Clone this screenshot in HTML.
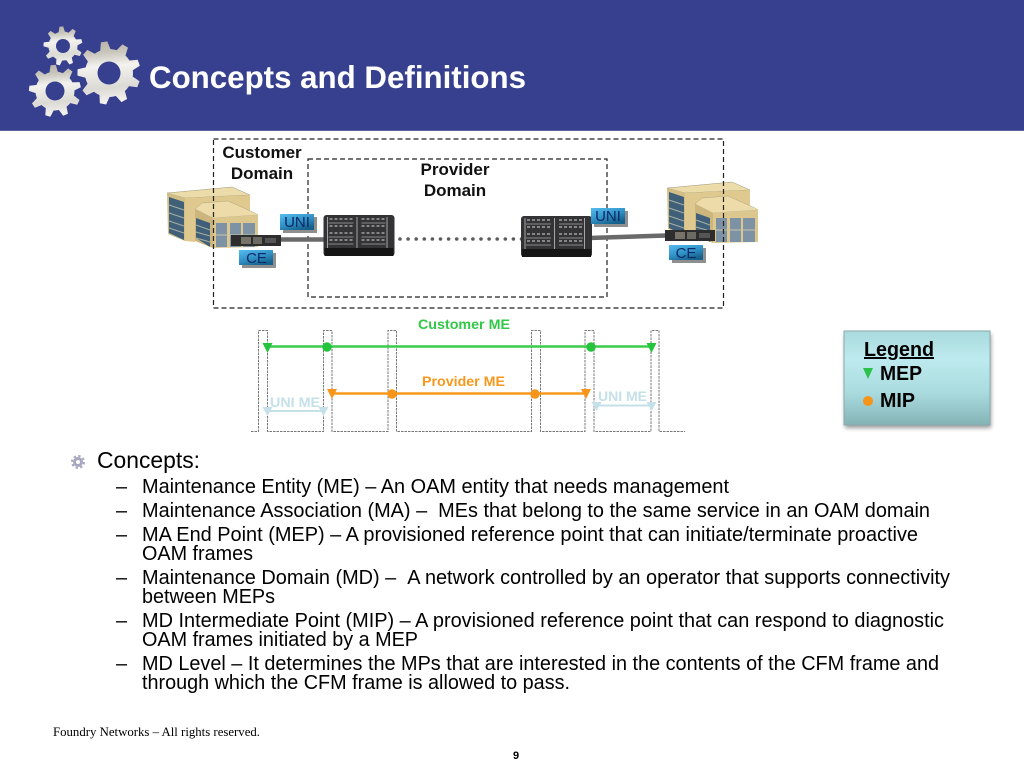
<!DOCTYPE html>
<html>
<head>
<meta charset="utf-8">
<title>Concepts and Definitions</title>
<style>
html,body{margin:0;padding:0;background:#fff;width:1024px;height:768px;overflow:hidden}
svg{display:block}
text{font-family:"Liberation Sans",sans-serif}
.b{font-size:19.900px;fill:#000}
.d{font-weight:bold;font-size:17px;fill:#111;text-anchor:middle}
.tag{font-size:15px;fill:#0c2a66;text-anchor:middle}
</style>
</head>
<body>
<svg width="1024" height="768" viewBox="0 0 1024 768" xmlns="http://www.w3.org/2000/svg">
<defs>
<linearGradient id="g" x1="0" y1="0" x2="0.1" y2="1"><stop offset="0" stop-color="#b2aea2"/><stop offset="0.22" stop-color="#c9c6bd"/><stop offset="0.42" stop-color="#f3f2ee"/><stop offset="0.75" stop-color="#dcdad4"/><stop offset="1" stop-color="#f6f5f2"/></linearGradient>
<linearGradient id="tagg" x1="0" y1="0" x2="0.6" y2="1"><stop offset="0" stop-color="#55bdf0"/><stop offset="0.6" stop-color="#2f8fc4"/><stop offset="1" stop-color="#16618c"/></linearGradient>
<linearGradient id="leg" x1="0" y1="0" x2="0" y2="1"><stop offset="0" stop-color="#a9dadd"/><stop offset="0.3" stop-color="#bdeaee"/><stop offset="0.65" stop-color="#aadcdf"/><stop offset="1" stop-color="#84b3b6"/></linearGradient>
<filter id="sh" x="-10%" y="-10%" width="120%" height="125%"><feGaussianBlur stdDeviation="2.2"/></filter>

<polygon id="tL" points="-5.500,-22 -3.200,-31.500 3.200,-31.500 5.500,-22" fill="#fff"/>
<polygon id="tM" points="-4.500,-17.500 -2.600,-26 2.600,-26 4.500,-17.500" fill="#fff"/>
<polygon id="tS" points="-3.300,-13 -1.900,-19.500 1.900,-19.500 3.300,-13" fill="#fff"/>

<mask id="mL" maskUnits="userSpaceOnUse" x="70" y="35" width="80" height="80">
<g transform="translate(109,73)">
<circle r="24" fill="#fff"/>
<use href="#tL" transform="rotate(-9)"/><use href="#tL" transform="rotate(31)"/><use href="#tL" transform="rotate(71)"/><use href="#tL" transform="rotate(111)"/><use href="#tL" transform="rotate(151)"/><use href="#tL" transform="rotate(191)"/><use href="#tL" transform="rotate(231)"/><use href="#tL" transform="rotate(271)"/><use href="#tL" transform="rotate(311)"/>
<circle r="11.500" fill="#000"/>
</g>
</mask>
<mask id="mM" maskUnits="userSpaceOnUse" x="20" y="55" width="70" height="70">
<g transform="translate(55,91)">
<circle r="19.500" fill="#fff"/>
<use href="#tM" transform="rotate(-4)"/><use href="#tM" transform="rotate(36)"/><use href="#tM" transform="rotate(76)"/><use href="#tM" transform="rotate(116)"/><use href="#tM" transform="rotate(156)"/><use href="#tM" transform="rotate(196)"/><use href="#tM" transform="rotate(236)"/><use href="#tM" transform="rotate(276)"/><use href="#tM" transform="rotate(316)"/>
<circle r="9.500" fill="#000"/>
</g>
</mask>
<mask id="mS" maskUnits="userSpaceOnUse" x="38" y="22" width="50" height="50">
<g transform="translate(63,46)">
<circle r="14.500" fill="#fff"/>
<use href="#tS" transform="rotate(-5)"/><use href="#tS" transform="rotate(35)"/><use href="#tS" transform="rotate(75)"/><use href="#tS" transform="rotate(115)"/><use href="#tS" transform="rotate(155)"/><use href="#tS" transform="rotate(195)"/><use href="#tS" transform="rotate(235)"/><use href="#tS" transform="rotate(275)"/><use href="#tS" transform="rotate(315)"/>
<circle r="7" fill="#000"/>
</g>
</mask>

<g id="bld">
<polygon points="167,193 232,187 250,195 185,198" fill="#ecdcaa" stroke="#9a9678" stroke-width="0.5"/>
<polygon points="167,193 185,198 185,241 168,234" fill="#d2be86"/>
<polygon points="169,197 184,202 184,240 169,233" fill="#40607a"/>
<path d="M169 205 L184 210 M169 213 L184 218 M169 221 L184 226 M169 228 L184 233" stroke="#a6aea0" stroke-width="1.100" fill="none"/>
<polygon points="185,198 250,195 250,216 195,212 195,242 185,241" fill="#dfc98e"/>
<polygon points="202,203 228,201 255,213 258,215 213,218 195,209" fill="#eddcaa" stroke="#a09a78" stroke-width="0.400"/>
<polygon points="195,209 213,218 213,248 195,241" fill="#cdb67e"/>
<polygon points="196,218 210,223 210,247 196,238" fill="#40607a"/>
<path d="M196 225 L210 230 M196 232 L210 236 M196 238 L210 242" stroke="#a6aea0" stroke-width="1.100" fill="none"/>
<polygon points="213,218 258,215 258,247 213,248" fill="#dcc88f"/>
<rect x="216" y="223" width="11" height="24" fill="#7d93a5"/>
<rect x="230" y="223" width="11" height="24" fill="#7d93a5"/>
<rect x="243" y="223" width="12" height="24" fill="#7d93a5"/>
<path d="M216 235 H255" stroke="#c9c6a6" stroke-width="1"/>
</g>

<g id="rtr">
<rect x="0" y="0" width="71" height="41" rx="3" fill="#333335"/>
<path d="M6 4 H30 M38 4 H62 M6 11 H30 M38 11 H62 M6 18 H30 M38 18 H62 M6 25 H30 M38 25 H62" stroke="#b8b8b8" stroke-width="1.200" stroke-dasharray="3 2" fill="none"/>
<path d="M5 8 H30 M38 8 H62 M5 22 H30 M38 22 H62 M38 29 H62 M5 29 H30" stroke="#6c6c6e" stroke-width="1.500" fill="none"/>
<path d="M33.500 2 V33 M63.500 2 V33 M4 2 V33" stroke="#a5a5a5" stroke-width="1" fill="none"/>
<rect x="1" y="33" width="69" height="8" fill="#151515"/>
</g>
<g id="ced">
<rect x="0" y="0" width="50" height="11" fill="#2d2d2e"/>
<rect x="10" y="2" width="10" height="7" fill="#77726a"/>
<rect x="22" y="2" width="9" height="7" fill="#6d6a64"/>
<rect x="34" y="3" width="11" height="5" fill="#555"/>
</g>
</defs>

<rect x="0" y="0" width="1024" height="131" fill="#37408f"/>
<rect x="0" y="130" width="1024" height="1" fill="#5b63a3"/>

<!-- gears -->
<rect x="70" y="41" width="78" height="66" fill="url(#g)" mask="url(#mL)"/>
<rect x="25" y="64" width="62" height="54" fill="url(#g)" mask="url(#mM)"/>
<rect x="40" y="26" width="46" height="40" fill="url(#g)" mask="url(#mS)"/>

<text x="149" y="88" font-weight="bold" font-size="31.300px" fill="#fff" textLength="377" lengthAdjust="spacingAndGlyphs">Concepts and Definitions</text>

<!-- domains -->
<use href="#bld"/>
<use href="#bld" transform="translate(500,-5)"/>
<rect x="213.500" y="139" width="510" height="169" fill="none" stroke="#222" stroke-width="1.200" stroke-dasharray="5 3"/>
<rect x="308" y="159" width="299" height="138" fill="none" stroke="#222" stroke-width="1.200" stroke-dasharray="5 3"/>

<text class="d" x="262" y="158">Customer</text>
<text class="d" x="262" y="179">Domain</text>
<text class="d" x="455" y="175">Provider</text>
<text class="d" x="455" y="196">Domain</text>

<path d="M280 239.500 H324" stroke="#6a6a6a" stroke-width="4.500"/>
<path d="M589 238 L666 235.500" stroke="#6a6a6a" stroke-width="4.500"/>
<path d="M400 239 H522" stroke="#5c5c5c" stroke-width="3.600" stroke-linecap="round" stroke-dasharray="0 8.100" fill="none"/>
<use href="#rtr" x="323.500" y="215"/>
<use href="#rtr" x="521" y="216"/>
<use href="#ced" x="231" y="235"/>
<use href="#ced" x="665" y="230"/>

<rect x="283" y="217" width="34" height="16" fill="#8f8f8f"/>
<rect x="280" y="214" width="34" height="16" fill="url(#tagg)"/>
<text class="tag" x="297" y="227">UNI</text>
<rect x="594" y="211" width="34" height="16" fill="#8f8f8f"/>
<rect x="591" y="208" width="34" height="16" fill="url(#tagg)"/>
<text class="tag" x="608" y="221">UNI</text>
<rect x="242" y="253" width="34" height="15" fill="#8f8f8f"/>
<rect x="239" y="250" width="34" height="15" fill="url(#tagg)"/>
<text class="tag" x="256.500" y="263">CE</text>
<rect x="672" y="248" width="34" height="15" fill="#8f8f8f"/>
<rect x="669" y="245" width="34" height="15" fill="url(#tagg)"/>
<text class="tag" x="686" y="258">CE</text>

<!-- ME pulses -->
<path d="M251 431.500 H258.500 V330.500 H267.500 V431.500 H323.500 V330.500 H332 V431.500 H388 V330.500 H396.500 V431.500 H531.500 V330.500 H540.500 V431.500 H585 V330.500 H594 V431.500 H651 V330.500 H659 V431.500 H685" fill="none" stroke="#777" stroke-width="1" stroke-dasharray="2.500 1"/>

<text x="418" y="329" font-weight="bold" font-size="14.200px" fill="#33c748" textLength="92" lengthAdjust="spacingAndGlyphs">Customer ME</text>
<path d="M267 346.500 H651" stroke="#3ccb4a" stroke-width="2.500"/>
<polygon points="262.500,343 272.500,343 267.500,353" fill="#25c43c"/>
<polygon points="646.500,343 656.500,343 651.500,353" fill="#25c43c"/>
<circle cx="327" cy="347" r="4.700" fill="#25c43c"/>
<circle cx="591" cy="347" r="4.700" fill="#25c43c"/>

<text x="422" y="386" font-weight="bold" font-size="14.200px" fill="#f7981d" textLength="83" lengthAdjust="spacingAndGlyphs">Provider ME</text>
<path d="M332 393.500 H586" stroke="#f7981d" stroke-width="2.500"/>
<polygon points="327,389 337,389 332,399" fill="#f7941a"/>
<polygon points="581,389 591,389 586,399" fill="#f7941a"/>
<circle cx="392" cy="394" r="4.700" fill="#f7941a"/>
<circle cx="535" cy="394" r="4.700" fill="#f7941a"/>

<text x="270" y="407" font-weight="bold" font-size="14.200px" fill="#c4e0e8" textLength="50" lengthAdjust="spacingAndGlyphs">UNI ME</text>
<path d="M267 411 H323" stroke="#c4e0e8" stroke-width="2"/>
<polygon points="262.500,407 272.500,407 267.500,416" fill="#c4e0e8"/>
<polygon points="318.500,407 328.500,407 323.500,416" fill="#c4e0e8"/>
<text x="598" y="401" font-weight="bold" font-size="14.200px" fill="#c4e0e8" textLength="49" lengthAdjust="spacingAndGlyphs">UNI ME</text>
<path d="M596 405.500 H651" stroke="#c4e0e8" stroke-width="2"/>
<polygon points="591.500,402 601.500,402 596.500,411" fill="#c4e0e8"/>
<polygon points="646.500,402 656.500,402 651.500,411" fill="#c4e0e8"/>

<!-- legend -->
<rect x="845" y="334" width="146" height="94" fill="#555" opacity="0.6" filter="url(#sh)"/>
<rect x="844" y="331" width="146" height="94" fill="url(#leg)" stroke="#8aa9ab" stroke-width="1"/>
<text x="864" y="356" font-weight="bold" font-size="19.900px" fill="#000" text-decoration="underline" textLength="70" lengthAdjust="spacingAndGlyphs">Legend</text>
<polygon points="863,368 873,368 868,379" fill="#2cc24a"/>
<text x="880" y="380" font-weight="bold" font-size="19.900px" fill="#000" textLength="42" lengthAdjust="spacingAndGlyphs">MEP</text>
<circle cx="868" cy="401" r="5" fill="#f7941a"/>
<text x="880" y="407" font-weight="bold" font-size="19.900px" fill="#000" textLength="35" lengthAdjust="spacingAndGlyphs">MIP</text>

<!-- bullets -->
<g fill="none" stroke="#a7a7c0">
<circle cx="78" cy="462" r="3.500" stroke-width="3"/>
<circle cx="78" cy="462" r="6" stroke-width="2" stroke-dasharray="2.360 2.360"/>
</g>
<text x="97" y="468" font-size="22.750px" fill="#000" textLength="103" lengthAdjust="spacingAndGlyphs">Concepts:</text>

<text class="b" x="116" y="493">–</text>
<text class="b" x="116" y="517">–</text>
<text class="b" x="116" y="541">–</text>
<text class="b" x="116" y="584">–</text>
<text class="b" x="116" y="627">–</text>
<text class="b" x="116" y="670">–</text>
<text class="b" x="142" y="493" textLength="587" lengthAdjust="spacingAndGlyphs">Maintenance Entity (ME) – An OAM entity that needs management</text>
<text class="b" x="142" y="517" textLength="788" lengthAdjust="spacingAndGlyphs">Maintenance Association (MA) – &#160;MEs that belong to the same service in an OAM domain</text>
<text class="b" x="142" y="541" textLength="776" lengthAdjust="spacingAndGlyphs">MA End Point (MEP) – A provisioned reference point that can initiate/terminate proactive</text>
<text class="b" x="142" y="560" textLength="111" lengthAdjust="spacingAndGlyphs">OAM frames</text>
<text class="b" x="142" y="584" textLength="808" lengthAdjust="spacingAndGlyphs">Maintenance Domain (MD) – &#160;A network controlled by an operator that supports connectivity</text>
<text class="b" x="142" y="603" textLength="133" lengthAdjust="spacingAndGlyphs">between MEPs</text>
<text class="b" x="142" y="627" textLength="802" lengthAdjust="spacingAndGlyphs">MD Intermediate Point (MIP) – A provisioned reference point that can respond to diagnostic</text>
<text class="b" x="142" y="646" textLength="276" lengthAdjust="spacingAndGlyphs">OAM frames initiated by a MEP</text>
<text class="b" x="142" y="670" textLength="797" lengthAdjust="spacingAndGlyphs">MD Level – It determines the MPs that are interested in the contents of the CFM frame and</text>
<text class="b" x="142" y="689" textLength="428" lengthAdjust="spacingAndGlyphs">through which the CFM frame is allowed to pass.</text>

<text x="53" y="736" style="font-family:'Liberation Serif',serif" font-size="12.800px" fill="#000" textLength="207" lengthAdjust="spacingAndGlyphs">Foundry Networks – All rights reserved.</text>
<text x="516" y="759" font-size="11px" font-weight="bold" fill="#000" text-anchor="middle">9</text>
</svg>
</body>
</html>
